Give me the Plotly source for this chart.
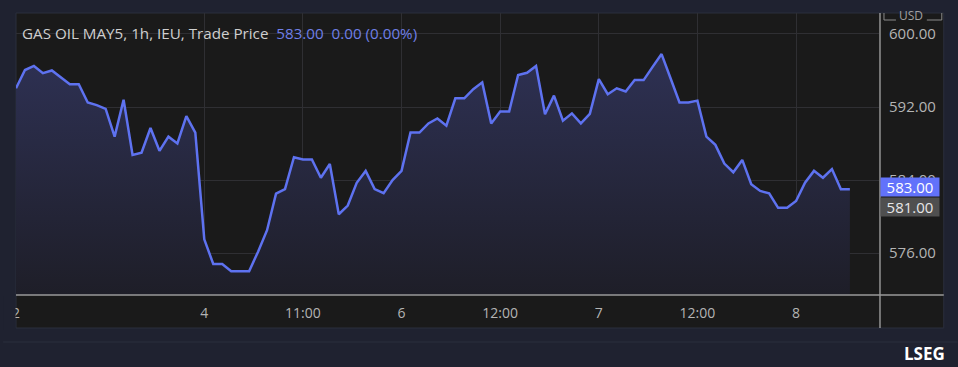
import plotly.graph_objects as go

# ---- data ----
prices = [
    594.05, 596.05, 596.5, 595.7, 596.0, 595.3, 594.5, 594.5, 592.5, 592.2,
    591.8, 588.75, 592.8, 586.75, 587.0, 589.7, 587.2, 588.75, 588.0, 591.0,
    589.2, 577.5, 574.8, 574.8, 574.0, 574.0, 574.0, 576.15, 578.5, 582.5,
    583.0, 586.5, 586.25, 586.25, 584.25, 585.75, 580.25, 581.2, 583.7, 585.0,
    583.0, 582.55, 584.0, 585.0, 589.2, 589.2, 590.2, 590.75, 589.95, 592.95,
    592.95, 593.95, 594.7, 590.2, 591.5, 591.5, 595.5, 595.75, 596.5, 591.2,
    593.25, 590.5, 591.3, 590.2, 591.25, 595.05, 593.4, 594.05, 593.7, 594.95,
    594.95, 596.4, 597.8, 595.15, 592.5, 592.5, 592.7, 588.75, 587.85, 585.8,
    584.85, 586.2, 583.55, 582.8, 582.55, 580.95, 580.95, 581.7, 583.7, 585.0,
    584.25, 585.2, 583.0, 583.0,
]
bar_index = list(range(len(prices)))
x_tick_index = [0, 21, 32, 43, 54, 65, 76, 87]
x_tick_labels = ["2", "4", "11:00", "6", "12:00", "7", "12:00", "8"]
y_tick_values = [576, 584, 592, 600]
last_price = 583.00
prev_close = 581.00
title_main = "GAS OIL MAY5, 1h, IEU, Trade Price"
title_quote = "583.00\u00a0\u00a00.00 (0.00%)"

# ---- style ----
NAVY = "#1f2230"
PANEL = "#1a1a1a"
GRID = "#2f2f33"
LINE = "#5e72f0"
TICK = "#b4b4b4"
FONT = "Open Sans"

W, H = 958, 367
L, R, T, B = 13, 879, 13, 295  # plot area in pixels
y_lo, y_hi = 571.40, 602.30
x_lo, x_hi = 0, 96.25


def px(xp):
    return (xp - L) / (R - L)


def py(yp):
    return (B - yp) / (B - T)


fig = go.Figure()
fig.add_trace(go.Scatter(
    x=bar_index, y=prices, mode="lines",
    line=dict(color=LINE, width=2.5),
    fill="tozeroy",
    fillgradient=dict(type="vertical",
                      colorscale=[[0, "rgb(30,30,40)"], [1, "rgb(46,49,84)"]],
                      start=y_lo, stop=598),
    hoverinfo="skip",
))

shapes = [
    dict(type="rect", xref="paper", yref="paper", x0=px(L), x1=px(944), y0=py(328), y1=py(T),
         fillcolor=PANEL, line=dict(color="#2b2f3c", width=1), layer="below"),
    dict(type="line", xref="paper", yref="paper", x0=px(0), x1=px(958), y0=py(342), y1=py(342),
         line=dict(color="#2b2f3d", width=1)),
    dict(type="line", xref="paper", yref="paper", x0=px(880), x1=px(880), y0=py(328), y1=py(T),
         line=dict(color="#cfcfcf", width=1), layer="above"),
    dict(type="line", xref="paper", yref="paper", x0=px(L), x1=px(944), y0=py(295), y1=py(295),
         line=dict(color="#9a9a9a", width=1.5), layer="above"),
    dict(type="rect", xref="paper", yref="paper", x0=px(0), x1=px(12.5), y0=py(330), y1=py(296),
         fillcolor=NAVY, line=dict(width=0), layer="above"),
    dict(type="path", xref="paper", yref="paper",
         path=f"M {px(884)} {py(13)} L {px(884)} {py(20)} L {px(896)} {py(20)}",
         line=dict(color="#8a8a8a", width=1)),
    dict(type="path", xref="paper", yref="paper",
         path=f"M {px(927)} {py(20)} L {px(942)} {py(20)} L {px(942)} {py(13)}",
         line=dict(color="#8a8a8a", width=1)),
]

annotations = [
    dict(xref="paper", yref="paper", x=px(17), y=py(33), xanchor="left", yanchor="middle",
         text=f"{title_main}\u00a0\u00a0<span style='color:#6f7fe6'>{title_quote}</span>",
         showarrow=False, font=dict(family=FONT, size=15.2, color="#cfcfcf")),
    dict(xref="paper", yref="y", x=px(880), y=last_price, xanchor="left", yanchor="middle",
         text=f"{last_price:.2f}", showarrow=False, yshift=2,
         bgcolor="#6272fb", width=58, height=18, borderpad=0, align="center",
         font=dict(family=FONT, size=15, color="#ffffff")),
    dict(xref="paper", yref="y", x=px(880), y=prev_close, xanchor="left", yanchor="middle",
         text=f"{prev_close:.2f}", showarrow=False, yshift=0,
         bgcolor="#4f4f4f", width=58, height=18, borderpad=0, align="center",
         font=dict(family=FONT, size=15, color="#e6e6e6")),
    dict(xref="paper", yref="paper", x=px(911), y=py(15), xanchor="center", yanchor="middle",
         text="USD", showarrow=False, font=dict(family=FONT, size=12, color="#a0a0a0")),
    dict(xref="paper", yref="paper", x=px(947), y=py(353), xanchor="right", yanchor="middle",
         text="<b>LSEG</b>", showarrow=False, font=dict(family=FONT, size=17, color="#ffffff")),
]

fig.update_layout(
    width=W, height=H,
    margin=dict(l=L, r=W - R, t=T, b=H - B, pad=0),
    paper_bgcolor=NAVY, plot_bgcolor=PANEL,
    showlegend=False,
    shapes=shapes, annotations=annotations,
    font=dict(family=FONT, size=14, color=TICK),
    xaxis=dict(range=[x_lo, x_hi], tickvals=x_tick_index, ticktext=x_tick_labels,
               showgrid=True, gridcolor=GRID, gridwidth=1, zeroline=False,
               showline=False, ticks="", ticklabelstandoff=8,
               tickfont=dict(family=FONT, size=14, color=TICK), fixedrange=True),
    yaxis=dict(range=[y_lo, y_hi], side="right", tickvals=y_tick_values, tickformat=".2f",
               showgrid=True, gridcolor=GRID, gridwidth=1, zeroline=False,
               showline=False, ticks="", ticklabelstandoff=9,
               tickfont=dict(family=FONT, size=15, color=TICK), fixedrange=True),
)

fig.write_html("out.html", config={"displayModeBar": False})

# remove the browser's default page margin so the figure sits at the window origin
with open("out.html", "r", encoding="utf-8") as f:
    html = f.read()
html = html.replace("<body>", "<body style=\"margin:0;padding:0;background:#1f2230;\">", 1)
with open("out.html", "w", encoding="utf-8") as f:
    f.write(html)
